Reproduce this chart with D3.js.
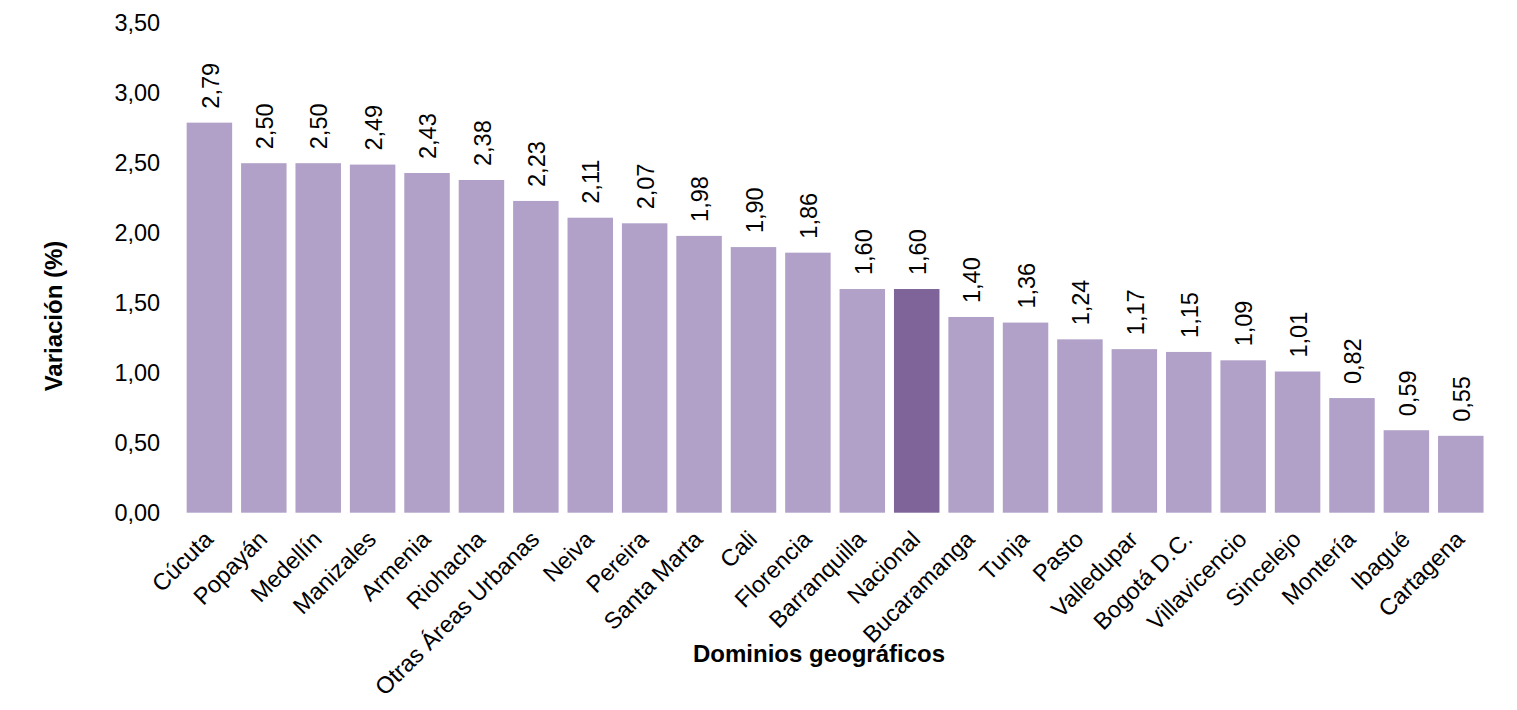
<!doctype html>
<html lang="es">
<head>
<meta charset="utf-8">
<style>
    body { margin: 0; background: #fff; }
    svg text { font-family: "Liberation Sans", Arial, sans-serif; fill: #000; }
</style>
</head>
<body>
<div class="chart"></div>

<script src="https://d3js.org/d3.v7.min.js"></script>
<script>

    // data
    let dominios = ['Cúcuta', 'Popayán', 'Medellín', 'Manizales', 'Armenia', 'Riohacha', 'Otras Áreas Urbanas',
        'Neiva', 'Pereira', 'Santa Marta', 'Cali', 'Florencia', 'Barranquilla', 'Nacional', 'Bucaramanga',
        'Tunja', 'Pasto', 'Valledupar', 'Bogotá D.C.', 'Villavicencio', 'Sincelejo', 'Montería', 'Ibagué', 'Cartagena'];
    let variacion = [2.79, 2.50, 2.50, 2.49, 2.43, 2.38, 2.23, 2.11, 2.07, 1.98, 1.90, 1.86, 1.60, 1.60, 1.40,
        1.36, 1.24, 1.17, 1.15, 1.09, 1.01, 0.82, 0.59, 0.55];
    let yTicks = [0, 0.5, 1, 1.5, 2, 2.5, 3, 3.5];
    let destacado = 'Nacional';

    let width = 1517;
    let height = 710;
    let margin = {top: 23.4, right: 29, bottom: 197.3, left: 182.2};

    let colorBar = '#b1a1c8';
    let colorDestacado = '#7e6498';
    let fontSize = '23.5px';

    let fmt = d3.formatLocale({decimal: ',', thousands: '.', grouping: [3], currency: ['$', '']}).format('.2f');

    let svg = d3.select('.chart').append('svg')
        .attr('width', width)
        .attr('height', height);

    let x = d3.scaleBand()
        .domain(dominios)
        .range([margin.left, width - margin.right])
        .paddingInner(0.164)
        .paddingOuter(0.082);

    let y = d3.scaleLinear()
        .domain([0, 3.5])
        .range([height - margin.bottom, margin.top]);

    let data = dominios.map((d, i) => ({nombre: d, valor: variacion[i]}));

    // y axis: labels only, no line or ticks
    let yAxis = svg.append('g')
        .attr('transform', `translate(${margin.left - 22},0)`)
        .call(d3.axisLeft(y).tickValues(yTicks).tickFormat(fmt).tickSize(0).tickPadding(0));
    yAxis.select('.domain').remove();
    yAxis.selectAll('text')
        .style('font-family', '"Liberation Sans", Arial, sans-serif')
        .style('font-size', fontSize)
        .attr('fill', '#000');

    // bars
    svg.append('g').attr('class', 'bars')
        .selectAll('rect')
        .data(data)
        .join('rect')
        .attr('x', d => x(d.nombre))
        .attr('y', d => y(d.valor))
        .attr('width', x.bandwidth())
        .attr('height', d => y(0) - y(d.valor))
        .attr('fill', d => d.nombre === destacado ? colorDestacado : colorBar);

    // value labels, rotated
    svg.append('g').attr('class', 'valores')
        .selectAll('text')
        .data(data)
        .join('text')
        .attr('transform', d => `translate(${x(d.nombre) + x.bandwidth() / 2 + 1},${y(d.valor) - 14}) rotate(-90)`)
        .attr('dy', '0.35em')
        .attr('text-anchor', 'start')
        .style('font-size', fontSize)
        .text(d => fmt(d.valor));

    // x axis labels at -45 degrees
    let xAxis = svg.append('g')
        .attr('transform', `translate(0,${y(0)})`)
        .call(d3.axisBottom(x).tickSize(0).tickPadding(0));
    xAxis.select('.domain').remove();
    xAxis.selectAll('text')
        .attr('y', 0)
        .attr('dy', 0)
        .attr('text-anchor', 'end')
        .attr('transform', 'translate(5,28) rotate(-45)')
        .style('font-family', '"Liberation Sans", Arial, sans-serif')
        .style('font-size', fontSize)
        .attr('fill', '#000');

    // axis titles
    svg.append('text')
        .attr('transform', `translate(62,316) rotate(-90)`)
        .attr('text-anchor', 'middle')
        .style('font-size', '24px')
        .style('font-weight', 'bold')
        .text('Variación (%)');

    svg.append('text')
        .attr('x', 819)
        .attr('y', 662)
        .attr('text-anchor', 'middle')
        .style('font-size', '24px')
        .style('font-weight', 'bold')
        .text('Dominios geográficos');

</script>
</body>
</html>
